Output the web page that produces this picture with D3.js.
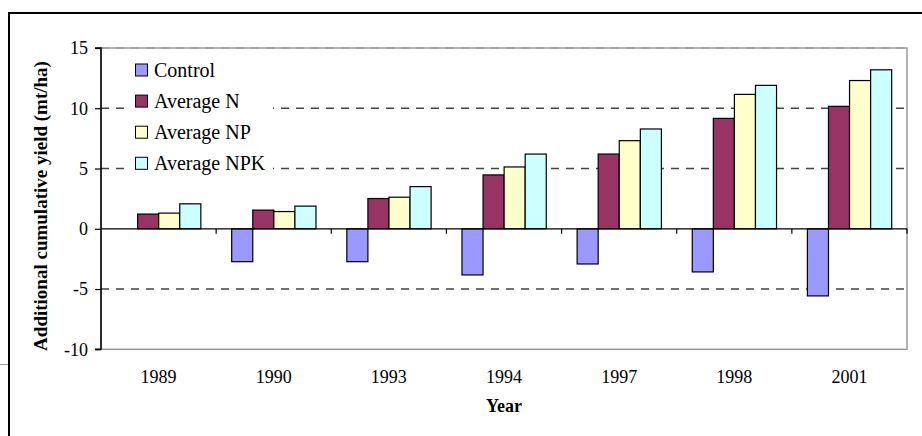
<!DOCTYPE html>
<html><head><meta charset="utf-8">
<script src="https://cdn.jsdelivr.net/npm/d3@7"></script>
<style>
html,body{margin:0;padding:0;background:#fff;}
svg text{font-family:"Liberation Serif","Times New Roman",serif;fill:#000;}
</style></head>
<body>
<svg id="c" width="922" height="436"></svg>
<script>
const years = ["1989","1990","1993","1994","1997","1998","2001"];
const seriesNames = ["Control","Average N","Average NP","Average NPK"];
const control    = [0, -2.73, -2.73, -3.83, -2.92, -3.58, -5.57];
const averageN   = [1.22, 1.55, 2.51, 4.47, 6.2, 9.16, 10.16];
const averageNP  = [1.3, 1.43, 2.62, 5.13, 7.31, 11.15, 12.3];
const averageNPK = [2.07, 1.88, 3.5, 6.2, 8.28, 11.9, 13.19];
const yTicks = [-10, -5, 0, 5, 10, 15];
const colors = ["#9999FF","#993366","#FFFFCC","#CCFFFF"];
const seriesValues = [control, averageN, averageNP, averageNPK];

const svg = d3.select("#c");
const L = 101, R = 907, T = 48, B = 349.3;

// outer frame
svg.append("path").attr("d","M9,436V13H922").attr("fill","none").attr("stroke","#000").attr("stroke-width",2);
svg.append("line").attr("x1",0).attr("x2",8).attr("y1",364.5).attr("y2",364.5).attr("stroke","#999").attr("stroke-width",1);

const x = d3.scaleBand().domain(years).range([L, R]).padding(0);
const y = d3.scaleLinear().domain([-10, 15]).range([B, T]);
const bw = x.bandwidth();
const x1 = d3.scaleBand().domain(seriesNames).range([bw*0.135, bw*0.867]).padding(0);

// plot border
svg.append("rect").attr("x",L).attr("y",T).attr("width",R-L).attr("height",B-T)
  .attr("fill","none").attr("stroke","#9a9a9a").attr("stroke-width",1.5);

// gridlines
svg.append("g").selectAll("line").data(yTicks.filter(t => t !== 0 && t !== -10)).join("line")
  .attr("x1",L).attr("x2",R).attr("y1",d=>y(d)).attr("y2",d=>y(d))
  .attr("stroke",d=> d===15 ? "#9a9a9a" : "#444").attr("stroke-width",1.5)
  .attr("stroke-dasharray","8,7");

// bars
const g = svg.append("g");
seriesNames.forEach((s,si) => {
  g.selectAll(null).data(years.map((yr,i)=>({yr, v: seriesValues[si][i]}))).join("rect")
    .attr("x", d => x(d.yr) + x1(s))
    .attr("width", x1.bandwidth())
    .attr("y", d => y(Math.max(0,d.v)))
    .attr("height", d => Math.abs(y(d.v) - y(0)))
    .attr("fill", colors[si]).attr("stroke","#000").attr("stroke-width",1.2)
    .attr("display", d => d.v === 0 ? "none" : null);
});

// y axis
const ya = svg.append("g").attr("transform",`translate(${L},0)`)
  .call(d3.axisLeft(y).tickValues(yTicks).tickSize(6).tickPadding(7).tickFormat(d => String(d)));
ya.attr("font-family",null);
ya.select(".domain").attr("stroke","#000").attr("stroke-width",1.5).attr("d",`M-6,${T}H0V${B}H-6`);
ya.selectAll(".tick line").attr("stroke","#000").attr("stroke-width",1.2);
ya.selectAll(".tick text").attr("font-size","18px");

// zero axis with category ticks
const xa = svg.append("g").attr("transform",`translate(0,${y(0)})`);
xa.append("line").attr("x1",L).attr("x2",R).attr("stroke","#000").attr("stroke-width",1.2);
xa.selectAll(".ct").data(years.slice(1).concat(["__end"])).join("line")
  .attr("x1", d => d==="__end" ? R : x(d)).attr("x2", d => d==="__end" ? R : x(d))
  .attr("y1",0).attr("y2",5).attr("stroke","#000").attr("stroke-width",1.2);

// x labels
svg.append("g").selectAll("text").data(years).join("text")
  .attr("x", d => x(d) + bw/2).attr("y", 382.5).attr("text-anchor","middle")
  .attr("font-size","18px").text(d=>d);

// axis titles
svg.append("text").attr("x",(L+R)/2).attr("y",412).attr("text-anchor","middle")
  .attr("font-size","18px").attr("font-weight","bold").text("Year");
svg.append("text").attr("transform","translate(47,206) rotate(-90)").attr("text-anchor","middle")
  .attr("font-size","19px").attr("font-weight","bold").text("Additional cumulative yield (mt/ha)");

// legend
const lg = svg.append("g");
lg.append("rect").attr("x",128).attr("y",54).attr("width",145).attr("height",124).attr("fill","#fff");
seriesNames.forEach((s,i) => {
  const cy = 70 + i*31.1;
  lg.append("rect").attr("x",135.5).attr("y",cy-6).attr("width",12).attr("height",12)
    .attr("fill",colors[i]).attr("stroke","#000").attr("stroke-width",1);
  lg.append("text").attr("x",154).attr("y",cy+6.5).attr("font-size","20px").text(s);
});
</script>
</body></html>
